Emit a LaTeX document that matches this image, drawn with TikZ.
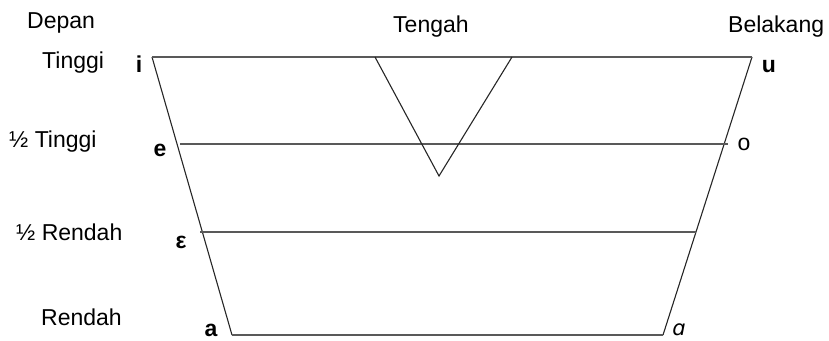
\documentclass[tikz,border=0pt]{standalone}
\usepackage{fontspec}
\setmainfont{Liberation Sans}
\newfontfamily\dejavufam{DejaVu Sans}
\begin{document}
\begin{tikzpicture}[x=1pt,y=-1pt,
  lbl/.style={inner sep=0pt,font=\fontsize{23}{27}\selectfont},
  lblb/.style={lbl,font=\fontsize{23}{27}\selectfont\bfseries},
  edge/.style={draw=black!85,line width=1.1pt},
  hline/.style={draw=black!65,line width=1.4pt}]
\useasboundingbox (0,0) rectangle (829,340);
% corners
\coordinate (TL) at (152,57);
\coordinate (TR) at (752,57);
\coordinate (BR) at (663,335);
\coordinate (BL) at (232,335);
\coordinate (eL) at (180,144);
\coordinate (eR) at (728,144);
\coordinate (xL) at (200,232);
\coordinate (xR) at (696,232);
\coordinate (tA) at (375,57);
\coordinate (tB) at (439,176);
\coordinate (tC) at (512,57);
% shapes
\draw[edge] (TR) -- (BR) (BL) -- (TL);
\draw[hline] (TL) -- (TR);
\draw[hline] (BL) -- (BR);
\draw[hline] (eL) -- (eR);
\draw[hline] (xL) -- (xR);
\draw[edge] (tA) -- (tB) -- (tC);
% headings
\node[lbl,anchor=base west] (depan) at (27,28) {Depan};
\node[lbl,anchor=base west] (tengah) at (393,32) {Tengah};
\node[lbl,anchor=base west] (belakang) at (728,32) {Belakang};
\node[lbl,anchor=base west] (tinggi) at (42,68) {Tinggi};
\node[lbl,anchor=base west] (htinggi) at (9,147) {½ Tinggi};
\node[lbl,anchor=base west] (hrendah) at (16,240) {½ Rendah};
\node[lbl,anchor=base west] (rendah) at (41,325) {Rendah};
% vowels
\node[lblb,anchor=base] (vi) at (139,72) {i};
\node[lblb,anchor=base] (vu) at (769,72) {u};
\node[lblb,anchor=base] (ve) at (160,156) {e};
\node[lbl,anchor=base] (vo) at (744,150) {o};
\node[lblb,anchor=base] (veps) at (181,248) {ε};
\node[lblb,anchor=base] (va) at (211,336) {a};
\node[lbl,anchor=base,font=\fontsize{21}{25}\dejavufam\itshape] (valpha) at (679,335) {ɑ};
\end{tikzpicture}
\end{document}
